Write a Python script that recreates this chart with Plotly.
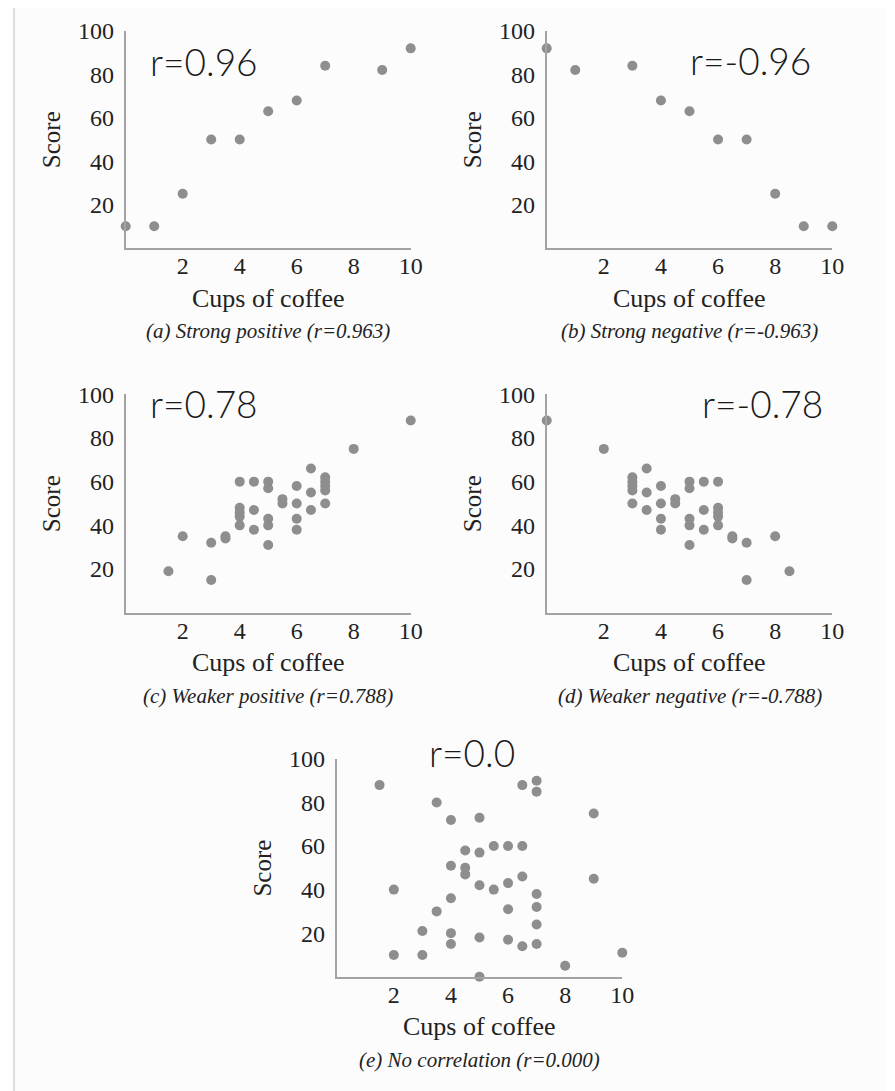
import plotly.graph_objects as go

W, H = 895, 1091

# ---------------- data ----------------
a_x = [0, 1, 2, 3, 4, 5, 6, 7, 9, 10]
a_y = [10, 10, 25, 50, 50, 63, 68, 84, 82, 92]

b_x = [0, 1, 3, 4, 5, 6, 7, 8, 9, 10]
b_y = [92, 82, 84, 68, 63, 50, 50, 25, 10, 10]

c_x = [1.5, 2, 3, 3, 3.5, 3.5, 4, 4, 4, 4, 4, 4.5, 4.5, 4.5, 5, 5, 5, 5, 5,
       5.5, 5.5, 6, 6, 6, 6, 6.5, 6.5, 6.5, 7, 7, 7, 7, 7, 8, 10]
c_y = [19, 35, 32, 15, 35, 34, 60, 48, 46, 44, 40, 60, 47, 38, 60, 57, 43, 40, 31,
       52, 50, 58, 50, 43, 38, 66, 55, 47, 62, 60, 58, 56, 50, 75, 88]

d_x = [8.5, 8, 7, 7, 6.5, 6.5, 6, 6, 6, 6, 6, 5.5, 5.5, 5.5, 5, 5, 5, 5, 5,
       4.5, 4.5, 4, 4, 4, 4, 3.5, 3.5, 3.5, 3, 3, 3, 3, 3, 2, 0]
d_y = [19, 35, 32, 15, 35, 34, 60, 48, 46, 44, 40, 60, 47, 38, 60, 57, 43, 40, 31,
       52, 50, 58, 50, 43, 38, 66, 55, 47, 62, 60, 58, 56, 50, 75, 88]

e_x = [1.5, 2, 2, 3, 3, 3.5, 3.5, 4, 4, 4, 4, 4, 4.5, 4.5, 4.5, 5, 5, 5, 5, 5,
       5.5, 5.5, 6, 6, 6, 6, 6.5, 6.5, 6.5, 6.5, 7, 7, 7, 7, 7, 7, 8, 9, 9, 10]
e_y = [88, 40, 10, 21, 10, 80, 30, 72, 51, 36, 20, 15, 58, 50, 47, 73, 57, 42, 18, 0,
       60, 40, 60, 43, 31, 17, 88, 60, 46, 14, 90, 85, 38, 32, 24, 15, 5, 75, 45, 11]

r_labels = ["r=0.96", "r=-0.96", "r=0.78", "r=-0.78", "r=0.0"]
captions = ["(a) Strong positive (r=0.963)", "(b) Strong negative (r=-0.963)",
            "(c) Weaker positive (r=0.788)", "(d) Weaker negative (r=-0.788)",
            "(e) No correlation (r=0.000)"]
x_title = "Cups of coffee"
y_title = "Score"
x_ticks = [2, 4, 6, 8, 10]
y_ticks = [20, 40, 60, 80, 100]

series = [(a_x, a_y), (b_x, b_y), (c_x, c_y), (d_x, d_y), (e_x, e_y)]

# ---------------- layout (page-pixel boxes: left, right, top, bottom) ----------------
boxes = [
    (125.7, 410.7, 31.0, 248.0),
    (546.7, 832.3, 31.0, 248.0),
    (125.7, 410.7, 394.3, 612.7),
    (546.7, 832.3, 394.3, 612.7),
    (336.7, 622.3, 759.0, 976.7),
]
r_pos = [(203.7, 61.7), (750.0, 60.0), (203.7, 403.0), (762.0, 403.0), (471.7, 753.0)]

OFF = 8  # the page body margin that offsets the figure


def px(x):
    return (x - OFF) / W


def py(y):
    return 1 - (y - OFF) / H


SERIF = "Liberation Serif"
TXT = "#222222"
AXC = "#a3a3a3"
MK = "#8e8e8e"

fig = go.Figure()
layout = dict(
    template="none",
    font=dict(family=SERIF),
    width=W, height=H,
    margin=dict(l=0, r=0, t=0, b=0, pad=0, autoexpand=False),
    paper_bgcolor="#fcfcfc",
    plot_bgcolor="rgba(0,0,0,0)",
    showlegend=False,
    annotations=[],
    shapes=[
        dict(type="rect", xref="paper", yref="paper",
             x0=-0.05, x1=px(14), y0=-0.05, y1=1.05,
             line=dict(width=0), fillcolor="white", layer="below"),
        dict(type="rect", xref="paper", yref="paper",
             x0=px(888), x1=1.05, y0=-0.05, y1=1.05,
             line=dict(width=0), fillcolor="white", layer="below"),
        dict(type="line", xref="paper", yref="paper",
             x0=px(14), x1=px(14), y0=-0.05, y1=1.05,
             line=dict(color="#d2d2d2", width=1.5), layer="below"),
        dict(type="line", xref="paper", yref="paper",
             x0=px(888), x1=px(888), y0=-0.05, y1=1.05,
             line=dict(color="#d2d2d2", width=1.5), layer="below"),
    ],
)

for i, ((xs, ys), (l, r, t, b)) in enumerate(zip(series, boxes)):
    k = "" if i == 0 else str(i + 1)
    fig.add_trace(go.Scatter(
        x=xs, y=ys, mode="markers", xaxis="x" + k, yaxis="y" + k,
        marker=dict(size=10, color=MK, line=dict(width=0)), cliponaxis=False,
        hoverinfo="x+y"))
    layout["xaxis" + k] = dict(
        domain=[px(l), px(r)], range=[0, 10], anchor="y" + k, automargin=False,
        tickmode="array", tickvals=x_ticks, showgrid=False, zeroline=False,
        showline=True, linecolor=AXC, linewidth=2, ticks="",
        ticklabelstandoff=-5,
        tickfont=dict(family=SERIF, size=24, color=TXT))
    layout["yaxis" + k] = dict(
        domain=[py(b), py(t)], range=[0, 100], anchor="x" + k, automargin=False,
        tickmode="array", tickvals=y_ticks, showgrid=False, zeroline=False,
        showline=True, linecolor=AXC, linewidth=2, ticks="",
        ticklabelstandoff=5,
        tickfont=dict(family=SERIF, size=24, color=TXT))
    cx = (l + r) / 2
    layout["annotations"] += [
        dict(text=x_title, x=px(cx), y=py(b + 50), xref="paper", yref="paper",
             showarrow=False, xanchor="center", yanchor="middle",
             font=dict(family=SERIF, size=26, color=TXT)),
        dict(text=y_title, x=px(l - 74), y=py((t + b) / 2), xref="paper", yref="paper",
             showarrow=False, xanchor="center", yanchor="middle", textangle=-90,
             font=dict(family=SERIF, size=25, color=TXT)),
        dict(text="<i>" + captions[i] + "</i>", x=px(cx), y=py(b + 83), xref="paper",
             yref="paper", showarrow=False, xanchor="center", yanchor="middle",
             font=dict(family=SERIF, size=21, color=TXT)),
        dict(text=r_labels[i], x=px(r_pos[i][0]), y=py(r_pos[i][1]), xref="paper",
             yref="paper", showarrow=False, xanchor="center", yanchor="middle",
             font=dict(family="Lato", size=37, color="#1a1a1a", weight=300)),
    ]

fig.update_layout(**layout)
fig.write_html("out.html")
